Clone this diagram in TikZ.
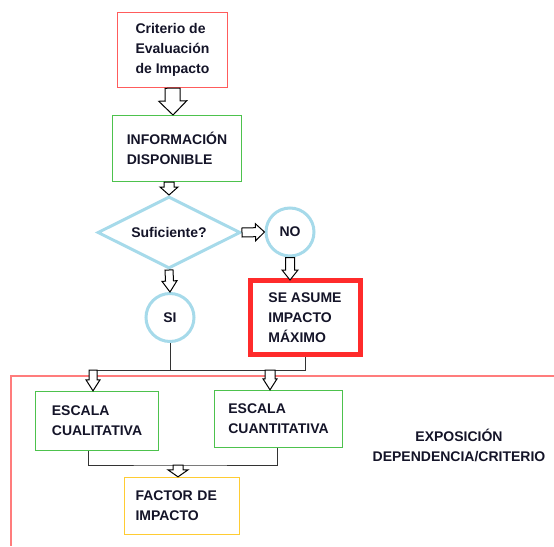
\documentclass[tikz,border=0pt]{standalone}
\usepackage{fontspec}
\setmainfont{Liberation Sans}
\usetikzlibrary{shapes.geometric,calc}

\definecolor{critred}{HTML}{FF5C5C}
\definecolor{infogreen}{HTML}{4DC24D}
\definecolor{sufblue}{HTML}{A6DAEA}
\definecolor{asumered}{HTML}{FF2B2B}
\definecolor{factoryellow}{HTML}{FFCC33}
\definecolor{framered}{HTML}{FF7C7C}
\definecolor{textnavy}{HTML}{141428}

% hollow block arrow: from, to, shaft half width, head half width, head length
\newcommand{\hollowarrow}[5]{%
  \draw[fill=white,line width=1pt,line join=miter]
    ($(#1)!#3!90:(#2)$)
    -- ($(#2)!#5!(#1)!#3!90:(#2)$)
    -- ($(#2)!#5!(#1)!#4!90:(#2)$)
    -- (#2)
    -- ($(#2)!#5!(#1)!#4!-90:(#2)$)
    -- ($(#2)!#5!(#1)!#3!-90:(#2)$)
    -- ($(#1)!#3!-90:(#2)$) -- cycle;}

\begin{document}
\begin{tikzpicture}[x=1pt,y=-1pt,
    every node/.style={text=textnavy,font=\fontsize{14}{20}\selectfont\bfseries},
    box/.style={draw,rectangle,line width=1.3pt,inner sep=0pt,align=left},
    decision/.style={draw=sufblue,diamond,aspect=2,line width=3pt,inner sep=0pt,
      minimum width=143pt,minimum height=72pt},
    answer/.style={draw=sufblue,circle,line width=3pt,inner sep=0pt,minimum size=48pt},
    link/.style={line width=1pt,draw=black!80}]
  \useasboundingbox (0,0) rectangle (554,546);

  \draw[framered,line width=1.2pt] (554,376) -| (11,546);

  \node[box,draw=critred,minimum width=110pt,minimum height=75pt] (crit) at (172.5,50)
    {Criterio de\\Evaluación\\de Impacto};
  \node[box,draw=infogreen,minimum width=129pt,minimum height=66pt] (info) at (177,148.5)
    {INFORMACIÓN\\DISPONIBLE};
  \node[decision] (suf) at (169,232.5) {Suficiente?};
  \node[answer] (no) at (290,232) {NO};
  \node[answer] (si) at (170,317.5) {SI};
  \node[box,draw=asumered,line width=5pt,minimum width=110pt,minimum height=74pt] (asume)
    at (305,317.5) {SE ASUME\\IMPACTO\\MÁXIMO};
  \node[box,draw=infogreen,minimum width=123pt,minimum height=59pt] (cual) at (97,421)
    {ESCALA\\CUALITATIVA};
  \node[box,draw=infogreen,minimum width=128pt,minimum height=57pt] (cuant) at (278.5,419)
    {ESCALA\\CUANTITATIVA};
  \node[box,draw=factoryellow,minimum width=115pt,minimum height=57pt,text width=93pt]
    (factor) at (182,506) {FACTOR DE\\IMPACTO};
  \node[align=center] (expo) at (459,445) {EXPOSICIÓN\\DEPENDENCIA/CRITERIO};

  \coordinate (busL) at (89,370);
  \coordinate (cualin) at (93,370);
  \coordinate (cuantin) at (270,370);
  \coordinate (join) at (178,465);
  \coordinate (infoout) at (169,182);
  \coordinate (infoin) at (173,115);
  \coordinate (asumein) at (290,280);

  \draw[link] (asume.south) |- (busL);
  \draw[link] (si.south) -- (si.south |- busL);
  \draw[link] ([xshift=-9pt]cual.south) |- (join) -| ([xshift=-1.5pt]cuant.south);

  \hollowarrow{crit.south}{infoin}{7.5pt}{14pt}{14pt}
  \hollowarrow{infoout}{suf.north}{5pt}{9pt}{8pt}
  \hollowarrow{suf.east}{no.west}{4.5pt}{8.5pt}{9pt}
  \hollowarrow{no.south}{asumein}{4.5pt}{8pt}{10pt}
  \hollowarrow{suf.south}{si.north}{4pt}{7.5pt}{11pt}
  \hollowarrow{cualin}{cualin |- cual.north}{4pt}{7pt}{11pt}
  \hollowarrow{cuantin}{cuantin |- cuant.north}{5pt}{7pt}{11pt}
  \hollowarrow{join}{join |- factor.north}{5pt}{10pt}{7pt}
\end{tikzpicture}
\end{document}
